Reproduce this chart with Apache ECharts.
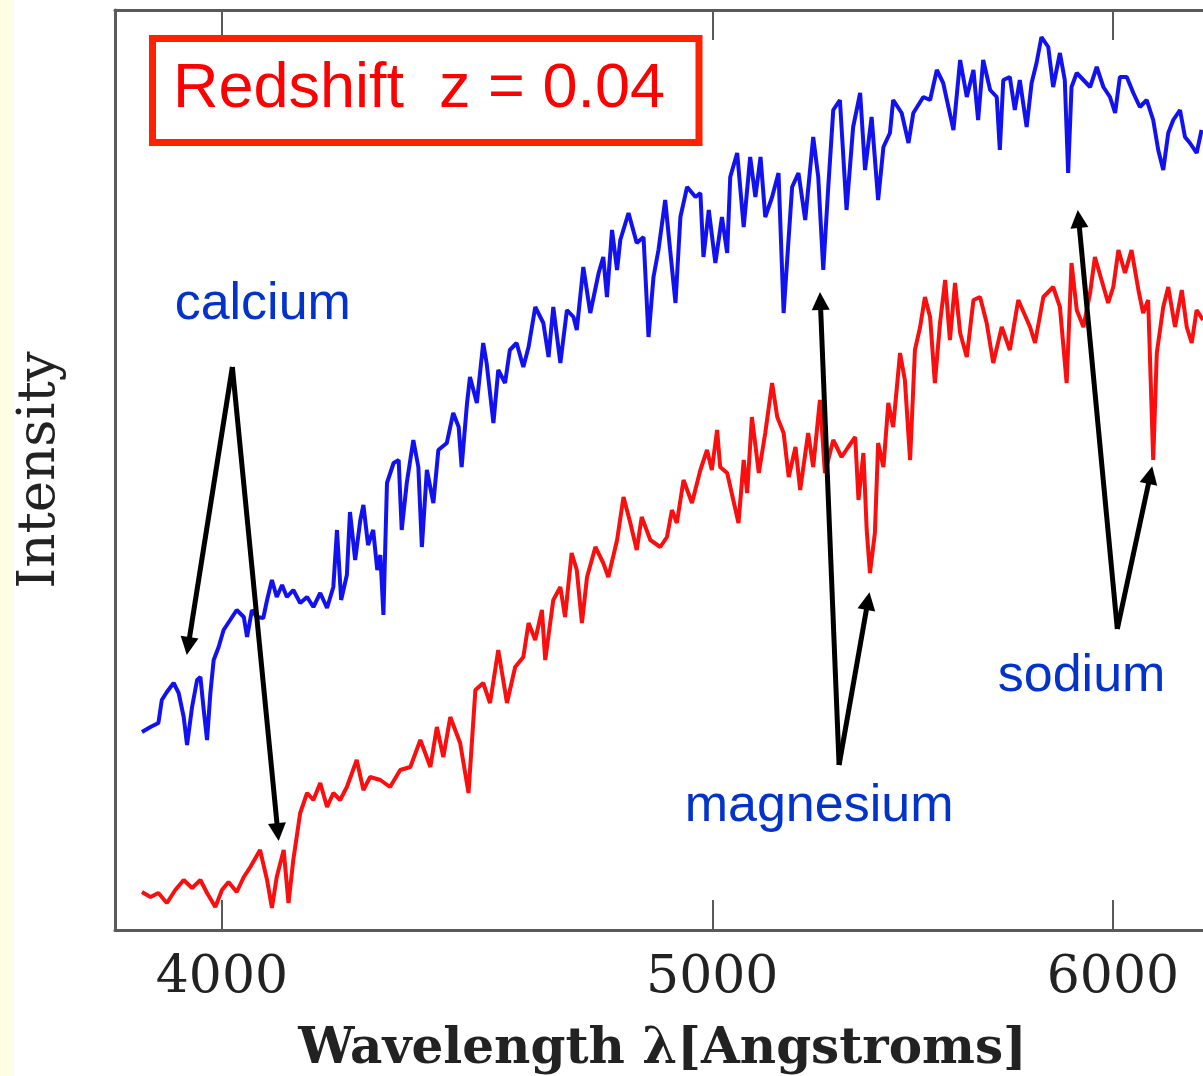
<!DOCTYPE html>
<html>
<head>
<meta charset="utf-8">
<script src="https://cdn.jsdelivr.net/npm/echarts@6/dist/echarts.min.js"></script>
<style>
  html, body { margin: 0; padding: 0; background: #ffffff; }
  #chart { width: 1203px; height: 1076px; }
</style>
</head>
<body>
<div id="chart"></div>
<script>
// Wavelength ticks (Angstroms) on the logarithmic axis
const tickWavelengths = [4000, 5000, 6000];

// Upper spectrum: [wavelength in Angstroms, intensity in arbitrary units]
const spectrumBlue = [
  [3857,1.98],[3872,2.03],[3886,2.07],[3892,2.30],[3901,2.38],[3913,2.47],[3922,2.37],[3931,2.13],
  [3937,1.85],[3946,2.23],[3955,2.50],[3961,2.53],[3967,2.20],[3973,1.90],[3979,2.37],[3985,2.70],
  [3994,2.83],[4003,3.00],[4015,3.10],[4027,3.20],[4040,3.13],[4046,2.93],[4055,3.20],[4064,3.13],
  [4076,3.12],[4083,3.30],[4092,3.50],[4101,3.33],[4111,3.45],[4120,3.33],[4132,3.40],[4145,3.27],
  [4158,3.33],[4170,3.23],[4183,3.37],[4196,3.22],[4208,3.43],[4215,4.00],[4223,3.30],[4234,3.55],
  [4240,4.18],[4250,3.70],[4260,4.10],[4266,4.25],[4275,3.85],[4285,4.00],[4293,3.60],[4299,3.75],
  [4305,3.15],[4312,4.47],[4325,4.67],[4335,4.70],[4341,4.00],[4351,4.47],[4364,4.90],[4374,4.63],
  [4381,3.83],[4391,4.60],[4404,4.27],[4414,4.80],[4431,4.87],[4444,5.17],[4455,5.03],[4461,4.63],
  [4472,5.27],[4478,5.53],[4492,5.27],[4505,5.87],[4512,5.67],[4526,5.07],[4536,5.60],[4550,5.47],
  [4560,5.80],[4574,5.87],[4588,5.63],[4599,5.83],[4613,6.23],[4630,6.07],[4641,5.73],[4651,6.23],
  [4666,5.67],[4680,6.20],[4694,6.13],[4701,6.00],[4715,6.63],[4730,6.17],[4748,6.57],[4758,6.73],
  [4766,6.33],[4777,7.00],[4788,6.60],[4795,6.90],[4813,7.17],[4831,6.87],[4846,6.93],[4857,5.93],
  [4868,6.53],[4879,6.80],[4894,7.30],[4905,6.80],[4917,6.27],[4928,7.13],[4943,7.43],[4962,7.33],
  [4973,7.37],[4980,6.73],[4992,7.20],[5007,6.67],[5022,7.13],[5034,6.77],[5041,7.53],[5057,7.77],
  [5072,7.03],[5087,7.73],[5099,7.33],[5111,7.73],[5122,7.13],[5138,7.33],[5153,7.57],[5165,6.17],
  [5177,6.93],[5185,7.43],[5200,7.57],[5216,7.10],[5235,7.93],[5247,7.53],[5259,6.60],[5271,7.43],
  [5283,8.20],[5299,8.30],[5315,7.20],[5331,8.03],[5348,8.37],[5360,7.60],[5376,8.13],[5392,7.30],
  [5405,7.83],[5421,7.97],[5429,8.30],[5450,8.17],[5467,7.87],[5479,8.17],[5504,8.33],[5521,8.30],
  [5538,8.60],[5554,8.47],[5580,8.00],[5597,8.70],[5614,8.33],[5631,8.60],[5643,8.10],[5656,8.70],
  [5674,8.40],[5691,8.33],[5699,7.80],[5708,8.50],[5725,8.53],[5738,8.20],[5751,8.50],[5769,8.03],
  [5782,8.47],[5795,8.67],[5808,8.93],[5826,8.83],[5839,8.43],[5857,8.77],[5870,8.50],[5879,7.57],
  [5888,8.43],[5902,8.57],[5920,8.50],[5938,8.43],[5956,8.63],[5974,8.43],[5992,8.33],[6006,8.17],
  [6019,8.53],[6038,8.53],[6056,8.37],[6074,8.23],[6093,8.30],[6111,8.10],[6125,7.80],[6139,7.60],
  [6153,7.97],[6167,8.10],[6186,8.20],[6200,7.93],[6214,7.87],[6233,7.77],[6247,8.00]
];

// Lower spectrum: [wavelength in Angstroms, intensity in arbitrary units]
const spectrumRed = [
  [3857,0.38],[3872,0.33],[3886,0.37],[3901,0.27],[3916,0.40],[3931,0.50],[3946,0.42],[3961,0.50],
  [3973,0.37],[3988,0.23],[4000,0.40],[4012,0.48],[4027,0.38],[4040,0.53],[4052,0.63],[4070,0.80],
  [4083,0.50],[4092,0.22],[4101,0.53],[4114,0.80],[4123,0.27],[4132,0.70],[4145,1.17],[4158,1.37],
  [4170,1.30],[4183,1.47],[4196,1.23],[4208,1.37],[4221,1.30],[4234,1.43],[4253,1.70],[4266,1.40],
  [4279,1.53],[4299,1.50],[4318,1.43],[4338,1.60],[4358,1.63],[4378,1.90],[4398,1.63],[4411,2.03],
  [4424,1.73],[4438,2.13],[4458,1.87],[4475,1.37],[4489,2.40],[4505,2.47],[4519,2.27],[4536,2.80],
  [4554,2.27],[4571,2.63],[4588,2.73],[4599,3.07],[4613,2.90],[4627,3.20],[4634,2.70],[4651,3.30],
  [4666,3.43],[4676,3.13],[4690,3.77],[4701,3.60],[4712,3.07],[4723,3.53],[4741,3.83],[4758,3.67],
  [4769,3.53],[4788,3.90],[4802,4.33],[4817,4.07],[4831,3.80],[4842,4.13],[4861,3.90],[4883,3.83],
  [4898,3.93],[4909,4.20],[4920,4.07],[4935,4.50],[4954,4.27],[4973,4.60],[4988,4.80],[4999,4.60],
  [5011,5.00],[5018,4.63],[5034,4.57],[5060,4.07],[5072,4.70],[5080,4.37],[5091,5.13],[5107,4.57],
  [5122,4.97],[5138,5.47],[5150,5.13],[5165,4.97],[5177,4.53],[5193,4.83],[5204,4.40],[5223,4.97],
  [5235,4.63],[5251,5.30],[5263,4.57],[5283,4.90],[5303,4.73],[5319,4.83],[5336,4.93],[5344,4.30],
  [5356,4.77],[5364,4.00],[5372,3.57],[5384,3.97],[5392,4.87],[5405,4.63],[5417,5.27],[5429,5.03],
  [5446,5.77],[5458,5.50],[5471,4.70],[5483,5.80],[5496,6.03],[5508,6.33],[5521,6.13],[5533,5.47],
  [5546,6.07],[5559,6.50],[5571,5.90],[5584,6.47],[5597,5.97],[5614,5.73],[5631,6.30],[5648,6.33],
  [5665,6.07],[5682,5.67],[5704,6.03],[5725,5.80],[5747,6.30],[5778,6.03],[5791,5.87],[5813,6.33],
  [5839,6.43],[5857,6.23],[5875,5.47],[5888,6.67],[5902,6.20],[5920,6.03],[5938,6.37],[5951,6.73],
  [5969,6.50],[5987,6.27],[6001,6.43],[6015,6.80],[6033,6.57],[6051,6.80],[6070,6.40],[6083,6.17],
  [6097,6.30],[6111,4.70],[6121,5.77],[6139,6.23],[6153,6.43],[6172,6.03],[6191,6.40],[6205,6.03],
  [6219,5.87],[6233,6.20],[6251,6.10]
];

// Absorption-line names and where they are written [wavelength, intensity]
const lineNames = ['calcium', 'magnesium', 'sodium'];
const lineNameAnchors = [[4075, 6.25], [5249, 1.23], [5915, 2.53]];

// Arrows from each name towards the matching dips: [start, arrowhead]
const calciumArrows = [[[4019, 5.63], [3939, 2.84]], [[4019, 5.63], [4103, 0.98]]];
const magnesiumArrows = [[[5297, 1.65], [5252, 6.29]], [[5297, 1.65], [5367, 3.29]]];
const sodiumArrows = [[[6012, 3.01], [5907, 7.11]], [[6012, 3.01], [6103, 4.55]]];

const redshiftText = 'Redshift  z = 0.04';

const frameColor = '#5a5a5a';
const axisFont = 'DejaVu Serif';

function wavelengthAxis(position, showLabels) {
  return {
    type: 'log',
    position: position,
    min: 3810,
    max: 6271,
    axisLine: { show: true, lineStyle: { color: frameColor, width: 3 } },
    axisTick: {
      show: true, inside: true, length: 30,
      customValues: tickWavelengths,
      lineStyle: { color: frameColor, width: 2 }
    },
    minorTick: { show: false },
    splitLine: { show: false },
    axisLabel: {
      show: showLabels,
      customValues: tickWavelengths,
      formatter: v => String(Math.round(v)),
      fontFamily: axisFont,
      fontSize: 52,
      color: '#222222',
      margin: 22
    }
  };
}

const chart = echarts.init(document.getElementById('chart'), null, { renderer: 'canvas' });

const bottomAxis = wavelengthAxis('bottom', true);
bottomAxis.name = 'Wavelength \u03bb[Angstroms]';
bottomAxis.nameLocation = 'middle';
bottomAxis.nameGap = 95;
bottomAxis.nameMoveOverlap = false;
bottomAxis.nameTextStyle = { fontFamily: axisFont, fontWeight: 'bold', fontSize: 50, color: '#222222' };

const topAxis = wavelengthAxis('top', false);

const arrowPairs = calciumArrows.concat(magnesiumArrows, sodiumArrows);

chart.setOption({
  animation: false,
  backgroundColor: '#ffffff',
  grid: {
    left: 115, top: 10, width: 1095, height: 920,
    containLabel: false,
    outerBoundsMode: 'none'
  },
  xAxis: [bottomAxis, topAxis],
  yAxis: {
    type: 'value',
    min: 0,
    max: 9.2,
    name: 'Intensity',
    nameLocation: 'middle',
    nameRotate: 90,
    nameGap: 48,
    nameMoveOverlap: false,
    nameTextStyle: { fontFamily: axisFont, fontSize: 53, color: '#222222' },
    axisLine: { show: true, lineStyle: { color: frameColor, width: 3 } },
    axisTick: { show: false },
    axisLabel: { show: false },
    splitLine: { show: false }
  },
  graphic: [
    {
      type: 'rect', left: 0, top: 0, z: -10,
      shape: { width: 14, height: 1076 },
      style: { fill: '#fffde2' }
    },
    {
      type: 'rect', z: 10,
      shape: { x: 152.5, y: 38.5, width: 546.5, height: 104 },
      style: { fill: null, stroke: '#ff2200', lineWidth: 7 }
    },
    {
      type: 'text', z: 11,
      x: 173, y: 90,
      style: {
        text: redshiftText,
        font: '63px "Liberation Sans", Arial, sans-serif',
        fill: '#ff0000',
        align: 'left',
        verticalAlign: 'middle'
      }
    }
  ],
  series: [
    {
      type: 'line',
      data: spectrumBlue,
      xAxisIndex: 0,
      showSymbol: false,
      silent: true,
      lineStyle: { color: '#1212f0', width: 4 },
      z: 3
    },
    {
      type: 'line',
      data: spectrumRed,
      xAxisIndex: 0,
      showSymbol: false,
      silent: true,
      lineStyle: { color: '#fa0e0e', width: 4 },
      z: 3
    },
    {
      type: 'lines',
      coordinateSystem: 'cartesian2d',
      xAxisIndex: 0,
      yAxisIndex: 0,
      silent: true,
      symbol: ['none', 'triangle'],
      symbolSize: 18,
      lineStyle: { color: '#000000', width: 5, opacity: 1, curveness: 0 },
      data: arrowPairs.map(p => ({ coords: p })),
      z: 5
    },
    {
      type: 'scatter',
      xAxisIndex: 0,
      silent: true,
      symbolSize: 0,
      itemStyle: { opacity: 1 },
      data: lineNames.map((n, i) => ({ name: n, value: lineNameAnchors[i] })),
      label: {
        show: true,
        position: 'inside',
        formatter: '{b}',
        fontFamily: 'Liberation Sans',
        fontSize: 52,
        color: '#0433cc',
        opacity: 1
      },
      z: 6
    }
  ]
});
</script>
</body>
</html>
